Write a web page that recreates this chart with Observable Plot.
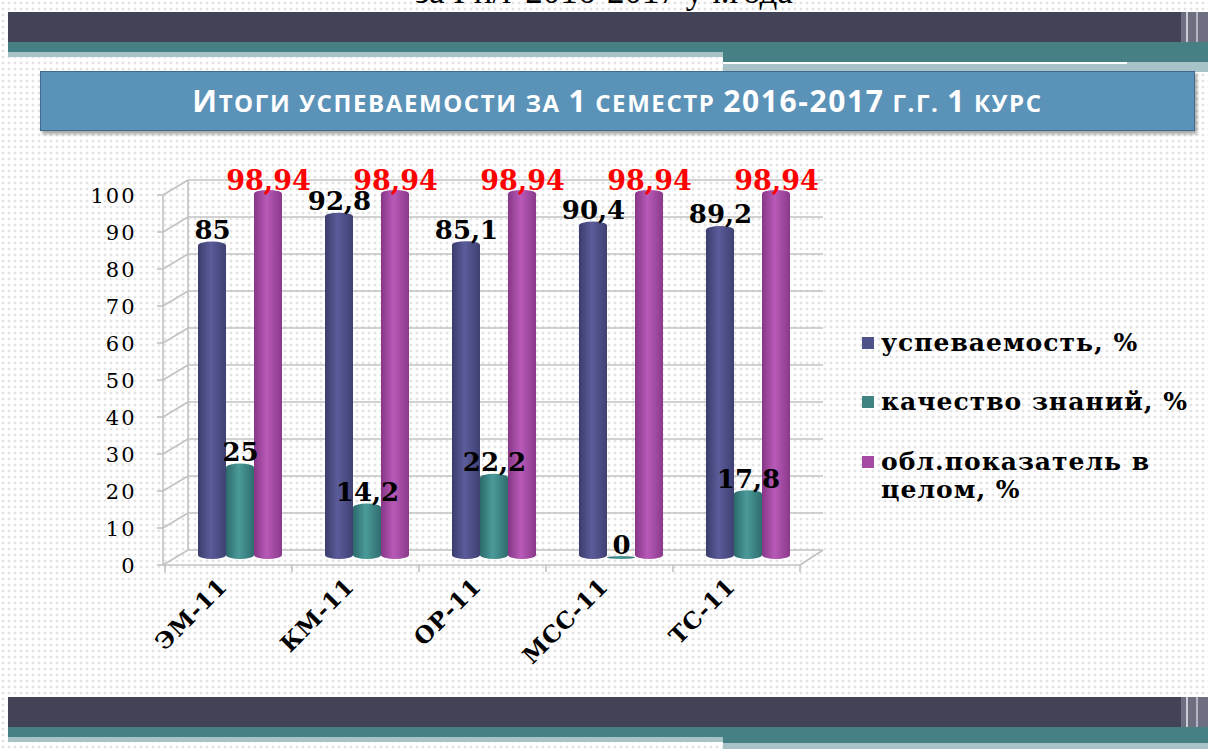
<!DOCTYPE html>
<html>
<head>
<meta charset="utf-8">
<script src="https://cdn.jsdelivr.net/npm/d3@7"></script>
<script src="https://cdn.jsdelivr.net/npm/@observablehq/plot@0.6"></script>
<style>
  html, body { margin: 0; padding: 0; }
  body {
    width: 1208px; height: 749px; position: relative; overflow: hidden;
    background-color: #ffffff;
    background-image: radial-gradient(#e3e3e3 1.3px, transparent 1.7px);
    background-size: 6px 6px;
    font-family: "DejaVu Serif", serif;
  }
  .abs { position: absolute; }
  #toptext { left: 0; width: 1208px; top: -26px; text-align: center; font-family: "Liberation Serif", serif; font-size: 35px; line-height: 1; color: #000; }
  #banner {
    left: 40px; top: 71px; width: 1153px; height: 58px;
    background: #5b92b8; border: 1px solid #3f6a8c;
    box-shadow: 2px 3px 3px rgba(0,0,0,0.35);
    color: #fff; text-align: center; line-height: 58px;
    font-family: "Open Sans", "Liberation Sans", sans-serif; font-weight: bold;
    font-size: 30px; letter-spacing: 1.6px; white-space: nowrap;
  }
  #banner .sc { font-size: 24px; text-transform: uppercase; }
  #chart { left: 0; top: 140px; }
  .leg { position: absolute; left: 862px; font-family: "DejaVu Serif", serif; font-weight: bold; font-size: 25px; letter-spacing: 1px; color: #000; line-height: 28px; }
  .leg .sw { position: absolute; left: 0; width: 12px; height: 12px; top: 8px; }
  .leg .tx { position: absolute; left: 19px; white-space: nowrap; }
  g[aria-label="values"] text { letter-spacing: 4px; }
  g[aria-label="y-axis tick label"] text { letter-spacing: 2px; }
  g[aria-label="fx-axis tick label"] text { letter-spacing: 1px; }
</style>
</head>
<body>
<div id="toptext" class="abs">за I п/г 2016-2017 уч.года</div>
<!-- top bands -->
<div class="abs" style="left:8px;top:12px;width:1173px;height:30px;background:#424356"></div>
<div class="abs" style="left:1181px;top:12px;width:27px;height:30px;background:#6d6e80"></div>
<div class="abs" style="left:1186px;top:12px;width:2px;height:60px;background:#c9ccd4"></div>
<div class="abs" style="left:1196px;top:12px;width:2px;height:60px;background:#b3b6c2"></div>
<div class="abs" style="left:8px;top:42px;width:1200px;height:10px;background:#467f84"></div>
<div class="abs" style="left:8px;top:52px;width:715px;height:5px;background:#a7c3c7"></div>
<div class="abs" style="left:723px;top:52px;width:485px;height:10px;background:#467f84"></div>
<div class="abs" style="left:723px;top:62px;width:485px;height:10px;background:#a7c3c7"></div>
<div class="abs" style="left:723px;top:62px;width:404px;height:2px;background:#ffffff"></div>
<!-- bottom bands -->
<div class="abs" style="left:8px;top:697px;width:1173px;height:30px;background:#424356"></div>
<div class="abs" style="left:1181px;top:697px;width:27px;height:30px;background:#6d6e80"></div>
<div class="abs" style="left:1186px;top:697px;width:2px;height:52px;background:#c9ccd4"></div>
<div class="abs" style="left:1196px;top:697px;width:2px;height:52px;background:#b3b6c2"></div>
<div class="abs" style="left:8px;top:727px;width:1200px;height:10px;background:#467f84"></div>
<div class="abs" style="left:8px;top:737px;width:715px;height:5px;background:#a7c3c7"></div>
<div class="abs" style="left:723px;top:737px;width:485px;height:6px;background:#467f84"></div>
<div class="abs" style="left:723px;top:743px;width:485px;height:6px;background:#a7c3c7"></div>

<div id="banner" class="abs">И<span class="sc">тоги успеваемости за </span>1<span class="sc"> семестр </span>2016-2017<span class="sc"> г.г. </span>1<span class="sc"> курс</span></div>
<div id="chart" class="abs"></div>
<div id="legend"></div>

<script>
// ---- data ----
const categories = ["ЭМ-11", "КМ-11", "ОР-11", "МСС-11", "ТС-11"];
const seriesNames = ["успеваемость, %", "качество знаний, %", "обл.показатель в целом, %"];
const uspevaemost = [85, 92.8, 85.1, 90.4, 89.2];
const kachestvo = [25, 14.2, 22.2, 0, 17.8];
const oblPokazatel = [98.94, 98.94, 98.94, 98.94, 98.94];
const yTicks = [0, 10, 20, 30, 40, 50, 60, 70, 80, 90, 100];

const seriesValues = [uspevaemost, kachestvo, oblPokazatel];
const gradIds = ["gPurple", "gTeal", "gMagenta"];
const labelColors = ["#000000", "#000000", "#ff0000"];
const legendColors = ["#4f518a", "#3f8383", "#a449a4"];

const rows = [];
seriesNames.forEach((s, si) => {
  categories.forEach((c, ci) => rows.push({cat: c, series: s, si, value: seriesValues[si][ci]}));
});
const fmt = v => String(v).replace(".", ",");

const marks = [];
seriesNames.forEach((s, si) => {
  const d = rows.filter(r => r.si === si);
  marks.push(Plot.barY(d, {
    fx: "cat", x: "series", y: "value",
    fill: `url(#${gradIds[si]})`, rx: 14, ry: 4,
    insetTop: -2, insetBottom: -1, insetLeft: 0, insetRight: 0
  }));
});
seriesNames.forEach((s, si) => {
  const d = rows.filter(r => r.si === si);
  marks.push(Plot.text(d, {
    fx: "cat", x: "series", y: "value", text: r => fmt(r.value),
    fill: labelColors[si], lineAnchor: "bottom", dy: si === 2 ? -2 : -5, dx: 0,
    fontSize: si === 2 ? 27 : 26, fontWeight: "bold", fontFamily: "DejaVu Serif",
    ariaLabel: "values"
  }));
});
marks.push(Plot.axisY({
  ticks: yTicks, tickSize: 0, tickPadding: 62, dy: 8, fontSize: 21,
  fontFamily: "DejaVu Serif", tickFormat: d => String(d), fill: "#000", label: null
}));
marks.push(Plot.axisFx({
  anchor: "bottom", tickSize: 0, tickRotate: -45, tickPadding: 24, dx: -17,
  fontSize: 23, fontWeight: "bold", fontFamily: "DejaVu Serif", label: null, fill: "#000"
}));

const plot = Plot.plot({
  width: 840, height: 540,
  marginLeft: 198, marginRight: 50, marginTop: 48, marginBottom: 122,
  style: {background: "transparent", overflow: "visible"},
  fx: {domain: categories, paddingInner: 0.34, paddingOuter: 0, label: null},
  x: {domain: seriesNames, padding: 0, axis: null},
  y: {domain: [0, 100], axis: null},
  marks
});
document.getElementById("chart").appendChild(plot);

// ---- 3D wall / floor decoration using Plot's scales ----
const yS = plot.scale("y"), fxS = plot.scale("fx");
const svg = d3.select(plot);
const defs = svg.insert("defs", ":first-child");
const gradStops = [
  ["#3b3c6c", "#5b5c9a", "#3f4072"],
  ["#2c6a6b", "#4b9a9a", "#2f6d6e"],
  ["#873687", "#b85ab8", "#8a398a"]
];
gradIds.forEach((id, i) => {
  const lg = defs.append("linearGradient").attr("id", id).attr("x1", 0).attr("x2", 1).attr("y1", 0).attr("y2", 0);
  lg.append("stop").attr("offset", "0%").attr("stop-color", gradStops[i][0]);
  lg.append("stop").attr("offset", "45%").attr("stop-color", gradStops[i][1]);
  lg.append("stop").attr("offset", "100%").attr("stop-color", gradStops[i][2]);
});
const deco = svg.insert("g", "defs + *").attr("stroke", "#c2c2c2").attr("stroke-width", 1.6).attr("fill", "none");
const x0 = fxS.apply(categories[0]);
const xf = x0 - 35, xb = x0 - 10;
const xr = fxS.apply(categories[categories.length - 1]) + fxS.bandwidth + 10;
const xbr = xr + 23;
const fOff = 7, bOff = -8;
const line = (a, b, c, d) => deco.append("line").attr("x1", a).attr("y1", b).attr("x2", c).attr("y2", d);
yTicks.forEach(v => {
  const yy = yS.apply(v);
  line(xb, yy + bOff, xbr, yy + bOff);
  line(xf, yy + fOff, xb, yy + bOff);
  line(xf - 6, yy + fOff, xf, yy + fOff);
});
line(xf, yS.apply(100) + fOff, xf, yS.apply(0) + fOff);
line(xb, yS.apply(100) + bOff, xb, yS.apply(0) + bOff);
const y0 = yS.apply(0);
line(xf, y0 + fOff, xr, y0 + fOff);
line(xr, y0 + fOff, xbr, y0 + bOff);
categories.forEach(c => line(fxS.apply(c) - 33, y0 + fOff, fxS.apply(c) - 33, y0 + fOff + 7));
line(xr, y0 + fOff, xr, y0 + fOff + 7);

// ---- legend ----
const legend = document.getElementById("legend");
const legendTops = [329, 388, 448];
const legendLines = [["успеваемость, %"], ["качество знаний, %"], ["обл.показатель в", "целом, %"]];
seriesNames.forEach((s, i) => {
  const item = document.createElement("div");
  item.className = "leg";
  item.style.top = legendTops[i] + "px";
  item.innerHTML = `<div class="sw" style="background:${legendColors[i]}"></div><div class="tx">${legendLines[i].join("<br>")}</div>`;
  legend.appendChild(item);
});
</script>
</body>
</html>
